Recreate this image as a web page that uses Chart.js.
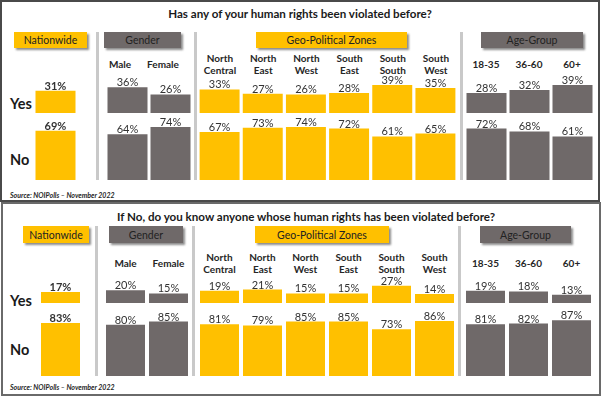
<!DOCTYPE html>
<html>
<head>
<meta charset="utf-8">
<script src="https://cdn.jsdelivr.net/npm/chart.js@4"></script>
<style>
  html,body{margin:0;padding:0;background:#fff;}
  body{width:602px;height:396px;position:relative;overflow:hidden;font-family:Lato,"Open Sans",sans-serif;color:#262626;}
  .panel{position:absolute;box-sizing:border-box;}
  .title{position:absolute;font-weight:bold;font-size:11.6px;white-space:nowrap;transform:translate(-50%,-50%);color:#1a1a1a;}
  .hdr{position:absolute;box-sizing:border-box;font-size:10.5px;display:flex;align-items:center;justify-content:center;box-shadow:2px 2px 2px rgba(0,0,0,0.45);color:#222;}
  .sep{position:absolute;width:3px;background:#c9c9c9;}
  .yn{position:absolute;font-weight:bold;font-size:14.5px;transform:translateY(-50%);color:#1a1a1a;}
  .src{position:absolute;font-weight:bold;font-style:italic;font-size:7px;transform:translateY(-50%);white-space:nowrap;}
  .cols{position:absolute;display:flex;transform:translateY(-50%);}
  .cols div{text-align:center;font-weight:bold;font-size:10px;line-height:12px;color:#262626;}
</style>
</head>
<body>
<script>
// ---------------- data ----------------
const panelTitles = [
  'Has any of your human rights been violated before?',
  'If No, do you know anyone whose human rights has been violated before?'
];
const groupNames = ['Nationwide', 'Gender', 'Geo-Political Zones', 'Age-Group'];
const rowLabels = ['Yes', 'No'];
const sourceText = 'Source: NOIPolls \u2013  November 2022';

const nationwideLabels = ['Nationwide'];
const genderLabels = ['Male', 'Female'];
const zoneLabels = [['North', 'Central'], ['North', 'East'], ['North', 'West'], ['South', 'East'], ['South', 'South'], ['South', 'West']];
const ageLabels = ['18-35', '36-60', '60+'];

// Question 1: Has any of your human rights been violated before?
const q1NationYes = [31];
const q1NationNo = [69];
const q1GenderYes = [36, 26];
const q1GenderNo = [64, 74];
const q1ZoneYes = [33, 27, 26, 28, 39, 35];
const q1ZoneNo = [67, 73, 74, 72, 61, 65];
const q1AgeYes = [28, 32, 39];
const q1AgeNo = [72, 68, 61];

// Question 2: If No, do you know anyone whose human rights has been violated before?
const q2NationYes = [17];
const q2NationNo = [83];
const q2GenderYes = [20, 15];
const q2GenderNo = [80, 85];
const q2ZoneYes = [19, 21, 15, 15, 27, 14];
const q2ZoneNo = [81, 79, 85, 85, 73, 86];
const q2AgeYes = [19, 18, 13];
const q2AgeNo = [81, 82, 87];

// ---------------- styles / layout ----------------
const YELLOW = '#FFC000';
const GRAY = '#6F6969';
const groupColors = [YELLOW, GRAY, YELLOW, GRAY];
const groupCatLabels = [nationwideLabels, genderLabels, zoneLabels, ageLabels];

const panels = [
  {
    box: {x: 0, y: 0, w: 600, h: 202, border: '2px solid #4a4a4a'},
    titleX: 300, titleY: 13,
    hdrY: 32, hdrH: 16,
    hdrX: [[14, 87], [104, 181], [256, 407], [481, 583]],
    seps: [97, 195, 461], sepTop: 32, sepBottom: 180,
    colY: 64,
    yesBase: 113, yesTop: 69, noBase: 180, noTop: 114, pxPer: 0.715,
    groups: [{left: 33.5, step: 43, shift: 0}, {left: 105.5, step: 43, shift: -7}, {left: 198.4, step: 43.2, shift: 0}, {left: 464.5, step: 43, shift: 0}],
    barW: 40,
    yesY: 103, noY: 159, srcY: 195,
    yes: [q1NationYes, q1GenderYes, q1ZoneYes, q1AgeYes],
    no: [q1NationNo, q1GenderNo, q1ZoneNo, q1AgeNo]
  },
  {
    box: {x: 1, y: 202, w: 600, h: 194, border: '2px solid #6a6a6a'},
    titleX: 306, titleY: 216,
    hdrY: 226, hdrH: 17,
    hdrX: [[23, 89], [109, 183], [255, 389], [480, 571]],
    seps: [96, 193, 459], sepTop: 226, sepBottom: 376,
    colY: 263,
    yesBase: 303, yesTop: 270, noBase: 376, noTop: 306, pxPer: 0.64,
    groups: [{left: 39, step: 43, shift: 0}, {left: 104, step: 43, shift: 0}, {left: 198, step: 43, shift: 0}, {left: 464, step: 43, shift: 0}],
    barW: 39,
    yesY: 300, noY: 349, srcY: 387,
    yes: [q2NationYes, q2GenderYes, q2ZoneYes, q2AgeYes],
    no: [q2NationNo, q2GenderNo, q2ZoneNo, q2AgeNo]
  }
];

// value label plugin
const valueLabels = {
  id: 'valueLabels',
  afterDatasetsDraw(chart) {
    const ctx = chart.ctx;
    const bold = chart.options.plugins.valueLabels.bold;
    ctx.save();
    ctx.font = (bold ? 'bold ' : '') + '11px Lato, "Open Sans", sans-serif';
    ctx.fillStyle = '#333';
    ctx.textAlign = 'center';
    ctx.textBaseline = 'alphabetic';
    chart.data.datasets.forEach((ds, di) => {
      chart.getDatasetMeta(di).data.forEach((bar, i) => {
        ctx.fillText(ds.data[i] + '%', bar.x, bar.y - 1);
      });
    });
    ctx.restore();
  }
};

function el(cls, css, text) {
  const d = document.createElement('div');
  if (cls) d.className = cls;
  Object.assign(d.style, css);
  if (text !== undefined) d.textContent = text;
  document.body.appendChild(d);
  return d;
}

function rowChart(left, top, width, height, labels, values, color, pxPer, barPct, bold) {
  const c = document.createElement('canvas');
  c.width = Math.round(width);
  c.height = height;
  Object.assign(c.style, {position: 'absolute', left: left + 'px', top: top + 'px', width: Math.round(width) + 'px', height: height + 'px'});
  document.body.appendChild(c);
  new Chart(c, {
    type: 'bar',
    data: {
      labels: labels.map(l => Array.isArray(l) ? l.join(' ') : l),
      datasets: [{data: values, backgroundColor: color, borderWidth: 0, barPercentage: barPct, categoryPercentage: 1}]
    },
    options: {
      responsive: false,
      devicePixelRatio: 1,
      animation: false,
      layout: {padding: 0},
      plugins: {legend: {display: false}, tooltip: {enabled: false}, valueLabels: {bold}},
      scales: {
        x: {display: false},
        y: {display: false, min: 0, max: height / pxPer}
      }
    },
    plugins: [valueLabels]
  });
}

panels.forEach((p, pi) => {
  el('panel', {left: p.box.x + 'px', top: p.box.y + 'px', width: p.box.w + 'px', height: p.box.h + 'px', border: p.box.border});
  el('title', {left: p.titleX + 'px', top: p.titleY + 'px'}, panelTitles[pi]);
  p.hdrX.forEach((hx, gi) => {
    el('hdr', {left: hx[0] + 'px', top: p.hdrY + 'px', width: (hx[1] - hx[0]) + 'px', height: p.hdrH + 'px', background: groupColors[gi]}, groupNames[gi]);
  });
  p.seps.forEach(sx => {
    el('sep', {left: (sx - 1) + 'px', top: p.sepTop + 'px', height: (p.sepBottom - p.sepTop) + 'px'});
  });
  el('yn', {left: '10px', top: p.yesY + 'px'}, rowLabels[0]);
  el('yn', {left: '10px', top: p.noY + 'px'}, rowLabels[1]);
  el('src', {left: '10px', top: p.srcY + 'px'}, sourceText);

  p.groups.forEach((g, gi) => {
    const labels = groupCatLabels[gi];
    const n = p.yes[gi].length;
    const width = g.step * n;
    const barPct = p.barW / g.step;
    if (gi > 0) {
      const row = el('cols', {left: (g.left + g.shift) + 'px', top: p.colY + 'px', width: width + 'px'});
      labels.forEach(l => {
        const d = document.createElement('div');
        d.style.width = g.step + 'px';
        d.innerHTML = Array.isArray(l) ? l.join('<br>') : l;
        row.appendChild(d);
      });
    }
    rowChart(g.left, p.yesTop, width, p.yesBase - p.yesTop, labels, p.yes[gi], groupColors[gi], p.pxPer, barPct, gi === 0);
    rowChart(g.left, p.noTop, width, p.noBase - p.noTop, labels, p.no[gi], groupColors[gi], p.pxPer, barPct, gi === 0);
  });
});
</script>
</body>
</html>
